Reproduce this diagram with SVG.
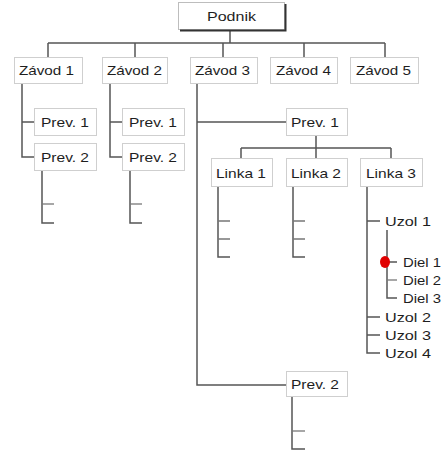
<svg xmlns="http://www.w3.org/2000/svg" width="443" height="450" viewBox="0 0 443 450">
<style>
.box{fill:#fff;stroke:#cfcfcf;stroke-width:1}
.t{font-family:"Liberation Sans",Arial,sans-serif;font-size:13.5px;fill:#1e1e1e}
.c{fill:none;stroke:#555;stroke-width:1.5}
.k{fill:none;stroke:#777;stroke-width:1.3}
</style>
<rect width="443" height="450" fill="#fff"/>
<g id="connectors">
<path class="c" d="M230,30V43M48,43H385M48,43V57M135,43V57M223,43V57M304,43V57M385,43V57"/>
<path class="c" d="M22,83V157H34M22,122H34"/>
<path class="c" d="M110,83V157H122M110,122H122"/>
<path class="c" d="M42,171V223H54"/>
<path class="k" d="M42,204H54"/>
<path class="c" d="M130,171V223H142"/>
<path class="k" d="M130,204H142"/>
<path class="c" d="M197,83V385H286M197,122H286"/>
<path class="c" d="M316,135V148M241,148H391M241,148V158M316,148V158M391,148V158"/>
<path class="c" d="M218,187V257H230"/>
<path class="k" d="M218,221H230M218,239H230"/>
<path class="c" d="M293,187V257H305"/>
<path class="k" d="M293,221H305M293,239H305"/>
<path class="c" d="M367,187V353H380M367,221H380M367,317H380M367,335H380"/>
<path class="c" d="M387,230V298H397M387,262H397"/>
<path class="k" d="M387,280H397"/>
<path class="c" d="M292,396V449H305"/>
<path class="k" d="M292,431H305"/>
</g>
<g id="podnik">
<rect class="box" x="178.5" y="2.5" width="106" height="27" style="stroke:#bdbdbd"/>
<path d="M285.5,4V31M180,30.5H286.5" fill="none" stroke="#333" stroke-width="2"/>
<text class="t" x="207" y="21" textLength="49" lengthAdjust="spacingAndGlyphs">Podnik</text>
</g>
<g id="zavod1"><rect class="box" x="14.5" y="57.5" width="68" height="26"/><text class="t" x="19" y="75" textLength="55" lengthAdjust="spacingAndGlyphs">Závod 1</text></g>
<g id="zavod2"><rect class="box" x="102.5" y="57.5" width="65" height="26"/><text class="t" x="107" y="75" textLength="55" lengthAdjust="spacingAndGlyphs">Závod 2</text></g>
<g id="zavod3"><rect class="box" x="190.5" y="57.5" width="67" height="26"/><text class="t" x="195" y="75" textLength="55" lengthAdjust="spacingAndGlyphs">Závod 3</text></g>
<g id="zavod4"><rect class="box" x="270.5" y="57.5" width="67" height="26"/><text class="t" x="276" y="75" textLength="55" lengthAdjust="spacingAndGlyphs">Závod 4</text></g>
<g id="zavod5"><rect class="box" x="350.5" y="57.5" width="68" height="26"/><text class="t" x="356" y="75" textLength="55" lengthAdjust="spacingAndGlyphs">Závod 5</text></g>
<g id="z1prev1"><rect class="box" x="34.5" y="108.5" width="62" height="27"/><text class="t" x="41" y="127" textLength="48" lengthAdjust="spacingAndGlyphs">Prev. 1</text></g>
<g id="z1prev2"><rect class="box" x="34.5" y="143.5" width="62" height="27"/><text class="t" x="41" y="162" textLength="48" lengthAdjust="spacingAndGlyphs">Prev. 2</text></g>
<g id="z2prev1"><rect class="box" x="122.5" y="108.5" width="62" height="27"/><text class="t" x="129" y="127" textLength="48" lengthAdjust="spacingAndGlyphs">Prev. 1</text></g>
<g id="z2prev2"><rect class="box" x="122.5" y="143.5" width="62" height="27"/><text class="t" x="129" y="162" textLength="48" lengthAdjust="spacingAndGlyphs">Prev. 2</text></g>
<g id="z3prev1"><rect class="box" x="286.5" y="108.5" width="61" height="27"/><text class="t" x="291" y="127" textLength="48" lengthAdjust="spacingAndGlyphs">Prev. 1</text></g>
<g id="linka1"><rect class="box" x="211.5" y="158.5" width="61" height="28"/><text class="t" x="216" y="178" textLength="50" lengthAdjust="spacingAndGlyphs">Linka 1</text></g>
<g id="linka2"><rect class="box" x="286.5" y="158.5" width="61" height="28"/><text class="t" x="291" y="178" textLength="50" lengthAdjust="spacingAndGlyphs">Linka 2</text></g>
<g id="linka3"><rect class="box" x="360.5" y="158.5" width="62" height="28"/><text class="t" x="366" y="178" textLength="50" lengthAdjust="spacingAndGlyphs">Linka 3</text></g>
<g id="uzol1"><text class="t" x="385" y="226" textLength="46" lengthAdjust="spacingAndGlyphs">Uzol 1</text></g>
<g id="diel1"><ellipse cx="385" cy="262" rx="5" ry="6" fill="#e00000"/><text class="t" x="403" y="267" textLength="38" lengthAdjust="spacingAndGlyphs">Diel 1</text></g>
<g id="diel2"><text class="t" x="403" y="285" textLength="38" lengthAdjust="spacingAndGlyphs">Diel 2</text></g>
<g id="diel3"><text class="t" x="403" y="303" textLength="38" lengthAdjust="spacingAndGlyphs">Diel 3</text></g>
<g id="uzol2"><text class="t" x="385" y="322" textLength="46" lengthAdjust="spacingAndGlyphs">Uzol 2</text></g>
<g id="uzol3"><text class="t" x="385" y="340" textLength="46" lengthAdjust="spacingAndGlyphs">Uzol 3</text></g>
<g id="uzol4"><text class="t" x="385" y="358" textLength="46" lengthAdjust="spacingAndGlyphs">Uzol 4</text></g>
<g id="z3prev2"><rect class="box" x="286.5" y="371.5" width="61" height="25"/><text class="t" x="291" y="389" textLength="48" lengthAdjust="spacingAndGlyphs">Prev. 2</text></g>
</svg>
